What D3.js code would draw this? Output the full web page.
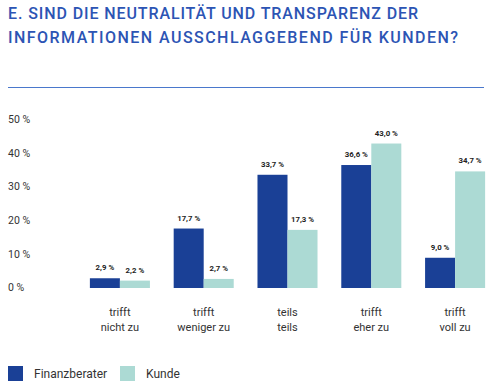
<!DOCTYPE html>
<meta charset="utf-8">
<head>
<style>
body { margin: 0; background: #fff; font-family: "Roboto", sans-serif; }
.title { fill: #2c54b4; font-weight: 500; font-size: 16px; }
.tick-label { fill: #333; font-size: 10.5px; }
.cat { fill: #333; font-size: 11px; }
.val { fill: #222; font-size: 7.8px; font-weight: 700; }
.leg { fill: #333; font-size: 12px; }
</style>
<script src="https://d3js.org/d3.v7.min.js"></script>
</head>
<body>
<div id="chart"></div>
<script>

var titleLines = ["E. SIND DIE NEUTRALITÄT UND TRANSPARENZ DER", "INFORMATIONEN AUSSCHLAGGEBEND FÜR KUNDEN?"];
var titleWidths = [410, 450];
var categories = ["trifft|nicht zu", "trifft|weniger zu", "teils|teils", "trifft|eher zu", "trifft|voll zu"];
var seriesNames = ["Finanzberater", "Kunde"];
var finanzberater = [2.9, 17.7, 33.7, 36.6, 9.0];
var kunde = [2.2, 2.7, 17.3, 43.0, 34.7];
var yTicks = [0, 10, 20, 30, 40, 50];

var colors = { "Finanzberater": "#1a4096", "Kunde": "#acdad4" };

var width = 499, height = 389;

var svg = d3.select("#chart").append("svg")
  .attr("width", width)
  .attr("height", height);

// title
svg.selectAll(".title")
  .data(titleLines)
  .enter().append("text")
    .attr("class", "title")
    .attr("x", 8)
    .attr("y", function(d, i) { return 18.5 + i * 24; })
    .attr("textLength", function(d, i) { return titleWidths[i]; })
    .attr("lengthAdjust", "spacing")
    .text(function(d) { return d; });

svg.append("line")
  .attr("x1", 8).attr("x2", 484)
  .attr("y1", 87.5).attr("y2", 87.5)
  .attr("stroke", "#4a78cc")
  .attr("stroke-width", 1);

var data = categories.map(function(c, i) {
  return { cat: c, values: [
    { key: "Finanzberater", value: finanzberater[i] },
    { key: "Kunde", value: kunde[i] }
  ]};
});

var x0 = d3.scaleBand()
  .domain(categories)
  .range([78, 497])
  .paddingInner(0.2836)
  .paddingOuter(0.1418);

var x1 = d3.scaleBand()
  .domain(seriesNames)
  .range([0, x0.bandwidth()]);

var y = d3.scaleLinear()
  .domain([0, 50])
  .range([288, 120]);

// y tick labels
svg.selectAll(".tick-label")
  .data(yTicks)
  .enter().append("text")
    .attr("class", "tick-label")
    .attr("x", 8)
    .attr("y", function(d) { return y(d); })
    .attr("dy", "0.3em")
    .text(function(d) { return d + " %"; });

var groups = svg.selectAll(".group")
  .data(data)
  .enter().append("g")
    .attr("class", "group")
    .attr("transform", function(d) { return "translate(" + x0(d.cat) + ",0)"; });

groups.selectAll("rect")
  .data(function(d) { return d.values; })
  .enter().append("rect")
    .attr("x", function(d) { return x1(d.key); })
    .attr("width", x1.bandwidth())
    .attr("y", function(d) { return y(d.value); })
    .attr("height", function(d) { return y(0) - y(d.value); })
    .attr("fill", function(d) { return colors[d.key]; });

groups.selectAll(".val")
  .data(function(d) { return d.values; })
  .enter().append("text")
    .attr("class", "val")
    .attr("x", function(d) { return x1(d.key) + x1.bandwidth() / 2; })
    .attr("y", function(d) { return y(d.value) - 8; })
    .attr("text-anchor", "middle")
    .text(function(d) { return d.value.toFixed(1).replace(".", ",") + " %"; });

// category labels, two lines each
groups.each(function(d) {
  var parts = d.cat.split("|");
  d3.select(this).selectAll(".cat")
    .data(parts)
    .enter().append("text")
      .attr("class", "cat")
      .attr("x", x0.bandwidth() / 2)
      .attr("y", function(p, i) { return 316 + i * 15; })
      .attr("text-anchor", "middle")
      .text(function(p) { return p; });
});

// legend
var legendX = [8, 120];
var legend = svg.selectAll(".legend")
  .data(seriesNames)
  .enter().append("g")
    .attr("class", "legend")
    .attr("transform", function(d, i) { return "translate(" + legendX[i] + ",366)"; });

legend.append("rect")
  .attr("width", 15).attr("height", 15)
  .attr("fill", function(d) { return colors[d]; });

legend.append("text")
  .attr("class", "leg")
  .attr("x", 26)
  .attr("y", 11.5)
  .text(function(d) { return d; });

</script>
</body>
</html>
